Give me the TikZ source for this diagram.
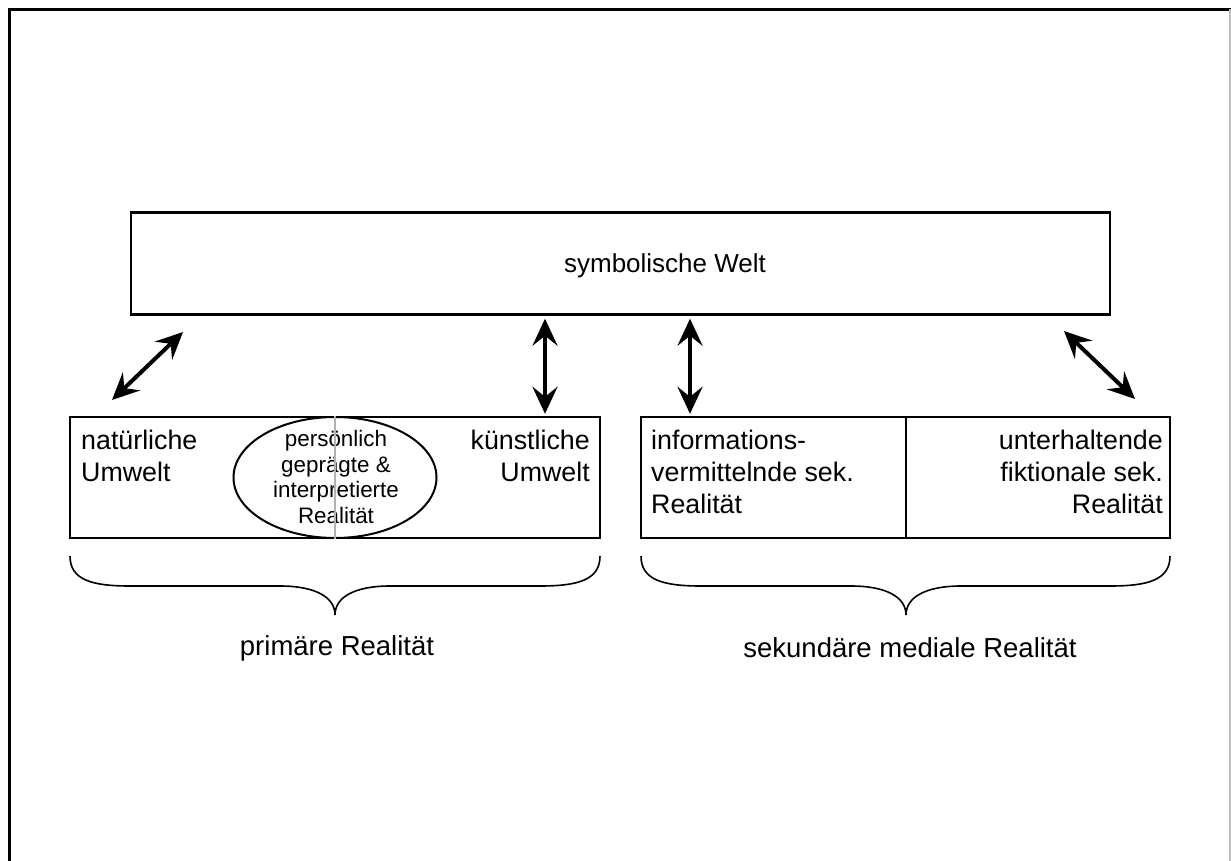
\documentclass[tikz,border=0pt]{standalone}
\usepackage{fontspec}
\setmainfont{Liberation Sans}
\usetikzlibrary{arrows.meta,shapes.geometric}
\begin{document}
\begin{tikzpicture}[x=1pt,y=-1pt,
  box/.style={draw, line width=2.4pt, inner sep=0pt},
  title/.style={font=\fontsize{26}{31.5}\selectfont, inner sep=0pt},
  lbl/.style={font=\fontsize{26.8}{32}\selectfont, inner sep=0pt},
  caption/.style={font=\fontsize{27.5}{32}\selectfont, inner sep=0pt},
  small/.style={font=\fontsize{22.4}{25.5}\selectfont, inner sep=0pt, align=center},
  dbl/.style={line width=4pt, {Stealth[length=27pt,width=25pt,inset=10pt]}-{Stealth[length=27pt,width=25pt,inset=10pt]}},
  brace/.style={line width=1.6pt},
]
\useasboundingbox (0,0) rectangle (1231,861);
\fill[white] (0,0) rectangle (1231,861);
% page frame
\draw[line width=3pt] (9.5,861) -- (9.5,9.5) -- (1231,9.5);
\draw[black!25, line width=1.5pt] (1230,9.5) -- (1230,861);

% symbolic world
\node[box, minimum width=979pt, minimum height=102pt] (sym) at (620.5,263.5) {};
\node[title] (symt) at (665,266) {symbolische Welt};

% primary reality box
\node[box, minimum width=530pt, minimum height=121pt] (prim) at (335,477.5) {};
\node[draw, ellipse, line width=2pt, minimum width=203pt, minimum height=121pt, inner sep=0pt] (pers) at (335,477.5) {};
\node[small] (perst) at (336,477) {persönlich\\geprägte \&\\interpretierte\\Realität};
\draw[black!30, line width=2pt] (prim.north) -- (prim.south);
\node[lbl, anchor=north west, align=left] (nat) at (81,430) {natürliche\\Umwelt};
\node[lbl, anchor=north east, align=right] (kuen) at (590,430) {künstliche\\Umwelt};

% secondary reality box
\node[box, minimum width=529pt, minimum height=121pt] (sek) at (905.5,477.5) {};
\draw[line width=2.4pt] (906,417) -- (906,538);
\node[lbl, anchor=north west, align=left] (info) at (651,430) {informations-\\vermittelnde sek.\\Realität};
\node[lbl, anchor=north east, align=right] (unt) at (1163,430) {unterhaltende\\fiktionale sek.\\Realität};

% arrows
\coordinate (a1b) at (112,400);
\coordinate (a1t) at (183,332);
\coordinate (a4t) at (1064,331);
\coordinate (a4b) at (1135,399);
\coordinate (c2) at (545,0);
\coordinate (c3) at (690,0);
\coordinate (a2t) at ([yshift=-3pt]c2 |- sym.south);
\coordinate (a2b) at ([yshift=2pt]c2 |- prim.north);
\coordinate (a3t) at ([yshift=-3pt]c3 |- sym.south);
\coordinate (a3b) at ([yshift=2pt]c3 |- sek.north);
\draw[dbl] (a1b) -- (a1t);
\draw[dbl] (a2b) -- (a2t);
\draw[dbl] (a3b) -- (a3t);
\draw[dbl] (a4t) -- (a4b);

% braces
\draw[brace] (70,556) .. controls (70,580) and (92,586) .. (130,586) -- (280,586)
  .. controls (315,586) and (335,597) .. (335,615)
  .. controls (335,597) and (355,586) .. (390,586) -- (540,586)
  .. controls (578,586) and (600,580) .. (600,556);
\draw[brace] (641,556) .. controls (641,580) and (663,586) .. (701,586) -- (851,586)
  .. controls (886,586) and (906,597) .. (906,615)
  .. controls (906,597) and (926,586) .. (961,586) -- (1110,586)
  .. controls (1148,586) and (1170,580) .. (1170,556);
\node[caption] (primlbl) at (337,648) {primäre Realität};
\node[caption] (seklbl) at (910,648) {sekundäre mediale Realität};
\end{tikzpicture}
\end{document}
